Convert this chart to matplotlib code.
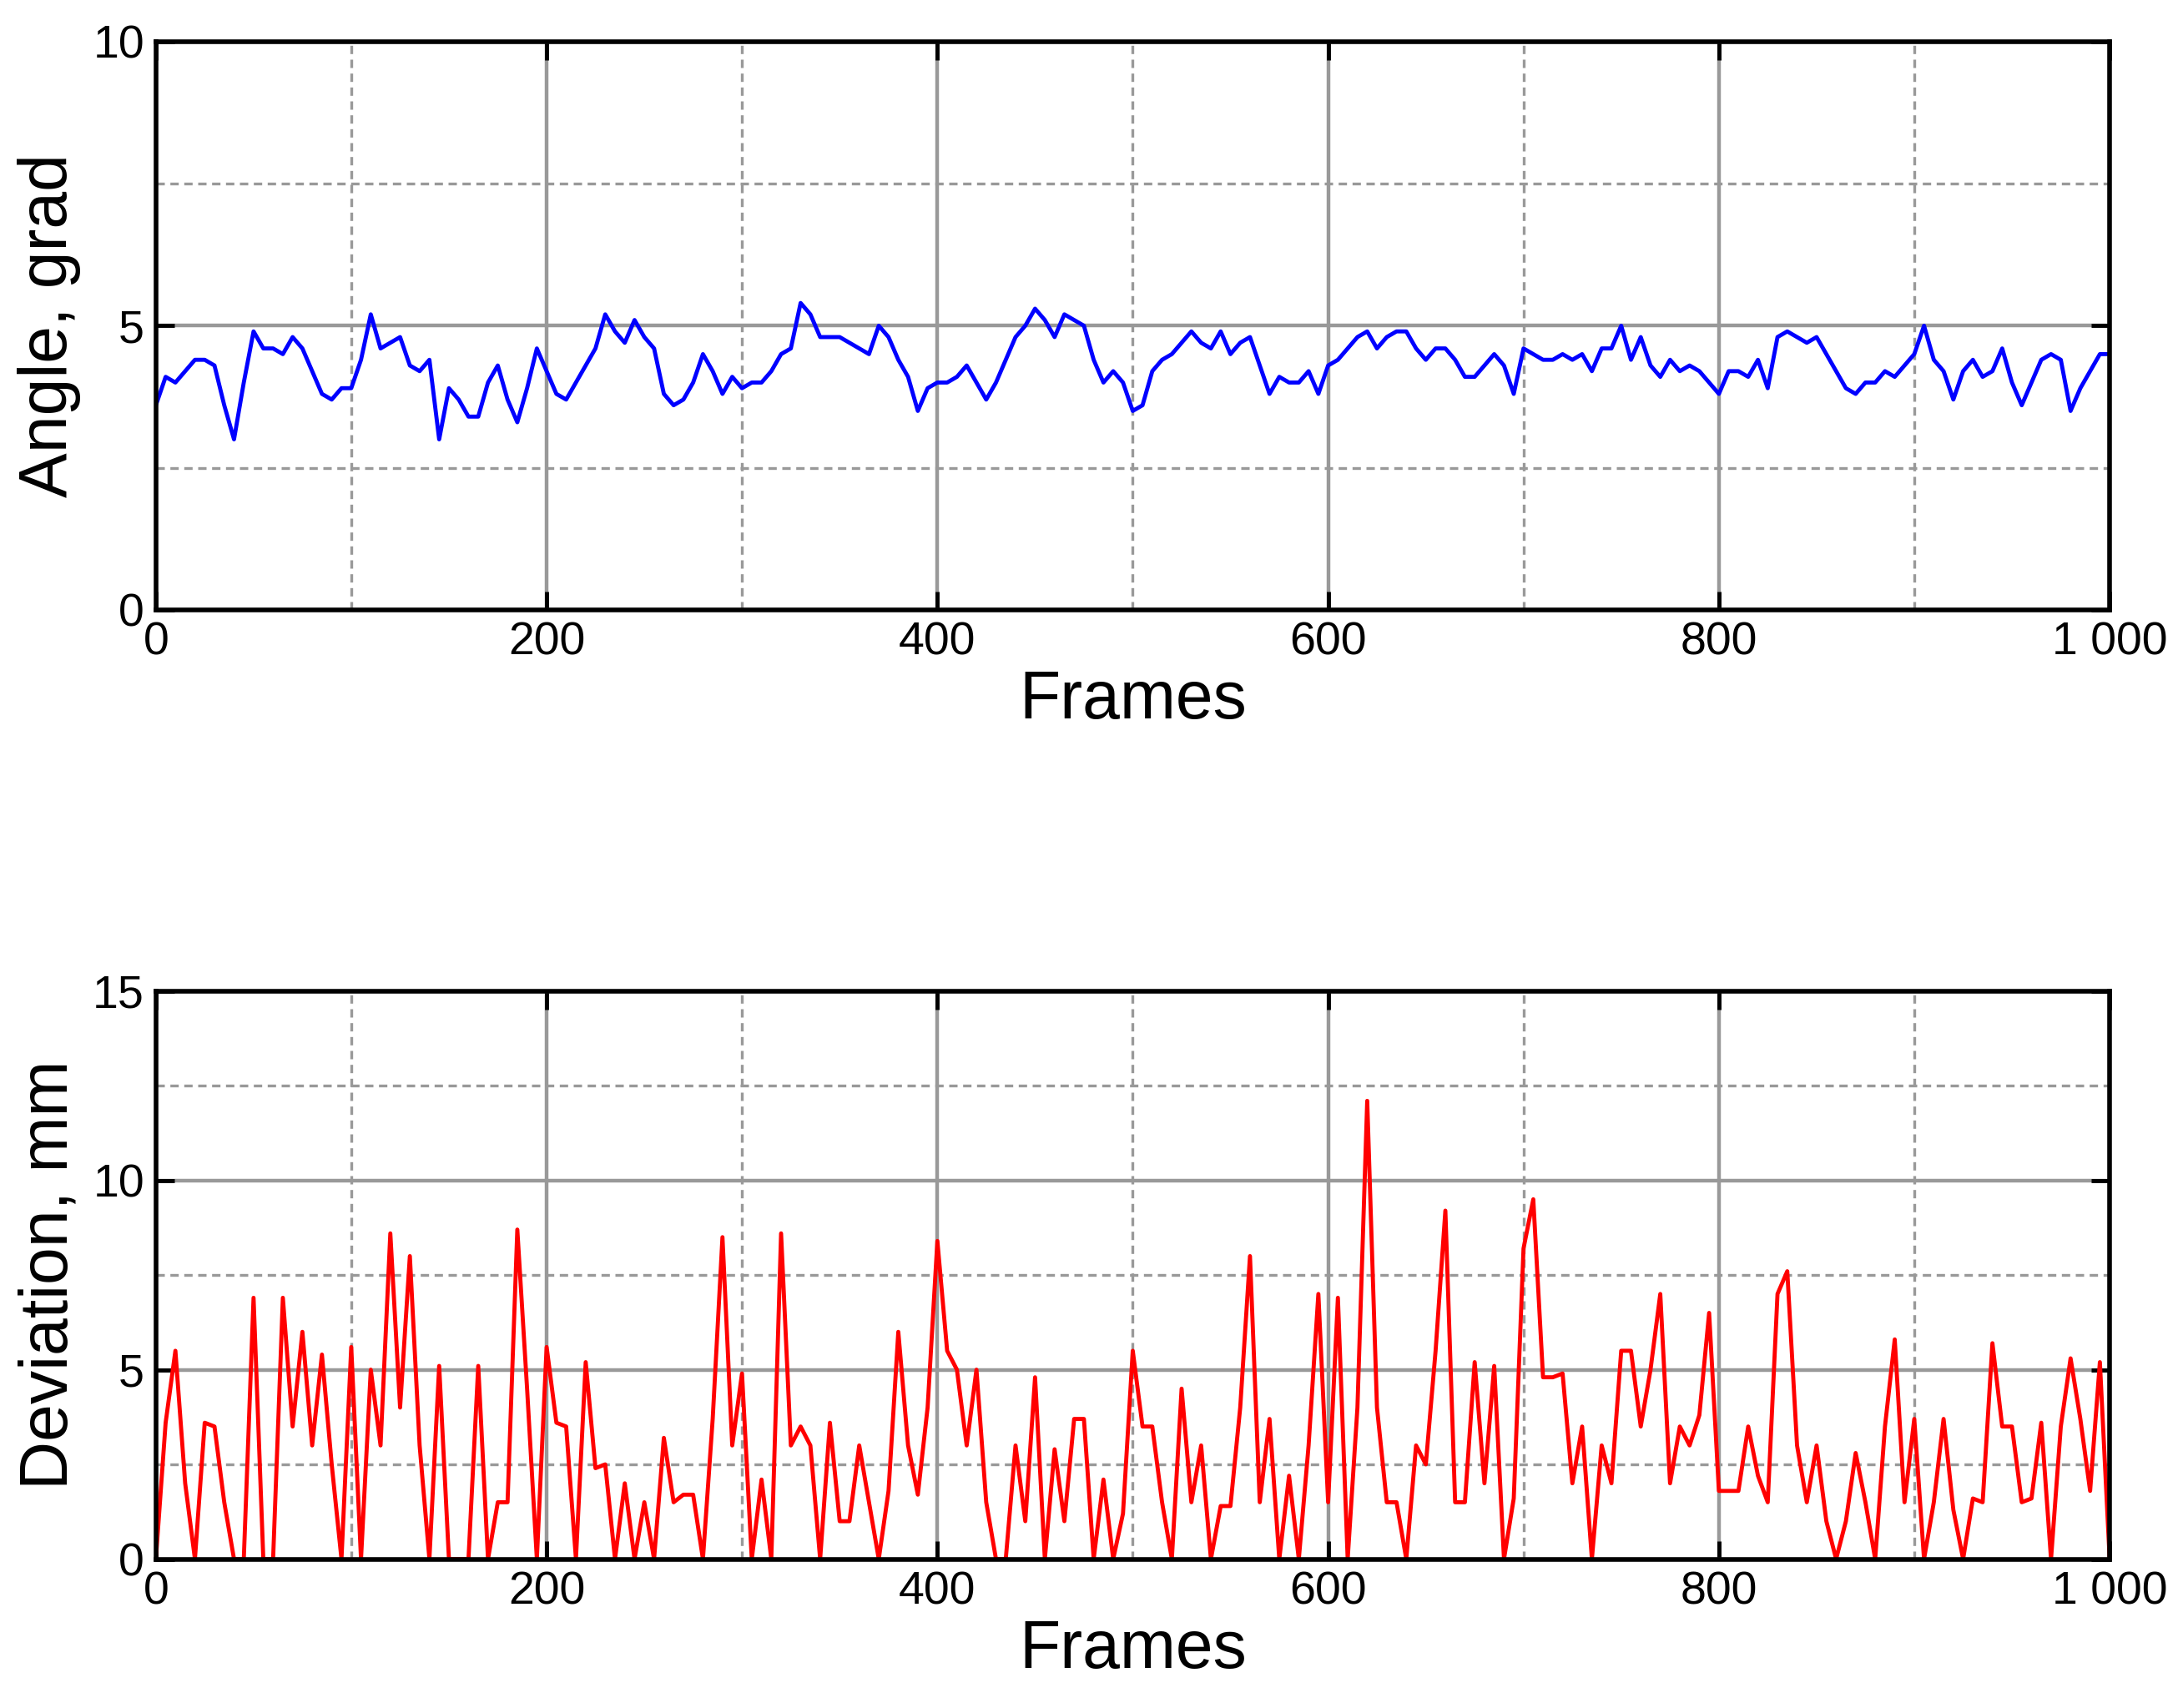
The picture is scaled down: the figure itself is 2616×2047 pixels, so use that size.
import matplotlib
matplotlib.use("Agg")
import matplotlib.pyplot as plt
import numpy as np
from matplotlib.ticker import MultipleLocator, FuncFormatter

plt.rcParams['font.family'] = ['Liberation Sans', 'DejaVu Sans']

frames = list(range(0, 1001, 5))
angle = [3.6,4.1,4.0,4.2,4.4,4.4,4.3,3.6,3.0,4.0,4.9,4.6,4.6,4.5,4.8,4.6,4.2,3.8,3.7,3.9,
         3.9,4.4,5.2,4.6,4.7,4.8,4.3,4.2,4.4,3.0,3.9,3.7,3.4,3.4,4.0,4.3,3.7,3.3,3.9,4.6,
         4.2,3.8,3.7,4.0,4.3,4.6,5.2,4.9,4.7,5.1,4.8,4.6,3.8,3.6,3.7,4.0,4.5,4.2,3.8,4.1,
         3.9,4.0,4.0,4.2,4.5,4.6,5.4,5.2,4.8,4.8,4.8,4.7,4.6,4.5,5.0,4.8,4.4,4.1,3.5,3.9,
         4.0,4.0,4.1,4.3,4.0,3.7,4.0,4.4,4.8,5.0,5.3,5.1,4.8,5.2,5.1,5.0,4.4,4.0,4.2,4.0,
         3.5,3.6,4.2,4.4,4.5,4.7,4.9,4.7,4.6,4.9,4.5,4.7,4.8,4.3,3.8,4.1,4.0,4.0,4.2,3.8,
         4.3,4.4,4.6,4.8,4.9,4.6,4.8,4.9,4.9,4.6,4.4,4.6,4.6,4.4,4.1,4.1,4.3,4.5,4.3,3.8,
         4.6,4.5,4.4,4.4,4.5,4.4,4.5,4.2,4.6,4.6,5.0,4.4,4.8,4.3,4.1,4.4,4.2,4.3,4.2,4.0,
         3.8,4.2,4.2,4.1,4.4,3.9,4.8,4.9,4.8,4.7,4.8,4.5,4.2,3.9,3.8,4.0,4.0,4.2,4.1,4.3,
         4.5,5.0,4.4,4.2,3.7,4.2,4.4,4.1,4.2,4.6,4.0,3.6,4.0,4.4,4.5,4.4,3.5,3.9,4.2,4.5,4.5]
deviation = [0,3.6,5.5,2.0,0,3.6,3.5,1.5,0,0,6.9,0,0,6.9,3.5,6.0,3.0,5.4,2.5,0,
             5.6,0,5.0,3.0,8.6,4.0,8.0,3.0,0,5.1,0,0,0,5.1,0,1.5,1.5,8.7,4.5,0,
             5.6,3.6,3.5,0,5.2,2.4,2.5,0,2.0,0,1.5,0,3.2,1.5,1.7,1.7,0,3.7,8.5,3.0,
             4.9,0,2.1,0,8.6,3.0,3.5,3.0,0,3.6,1.0,1.0,3.0,1.5,0,1.8,6.0,3.0,1.7,4.0,
             8.4,5.5,5.0,3.0,5.0,1.5,0,0,3.0,1.0,4.8,0,2.9,1.0,3.7,3.7,0,2.1,0,1.2,
             5.5,3.5,3.5,1.5,0,4.5,1.5,3.0,0,1.4,1.4,4.0,8.0,1.5,3.7,0,2.2,0,3.0,7.0,
             1.5,6.9,0,4.0,12.1,4.0,1.5,1.5,0,3.0,2.5,5.5,9.2,1.5,1.5,5.2,2.0,5.1,0,1.6,
             8.2,9.5,4.8,4.8,4.9,2.0,3.5,0,3.0,2.0,5.5,5.5,3.5,5.0,7.0,2.0,3.5,3.0,3.8,6.5,
             1.8,1.8,1.8,3.5,2.2,1.5,7.0,7.6,3.0,1.5,3.0,1.0,0,1.0,2.8,1.5,0,3.5,5.8,1.5,
             3.7,0,1.5,3.7,1.3,0,1.6,1.5,5.7,3.5,3.5,1.5,1.6,3.6,0,3.5,5.3,3.7,1.8,5.2,0]

fig = plt.figure(figsize=(26.16, 20.47), dpi=100)
ax1 = fig.add_axes([0.0714, 0.643, 0.895, 0.3326])
ax2 = fig.add_axes([0.0714, 0.0872, 0.895, 0.3326])

fmt = FuncFormatter(lambda v, p: f"{int(v):,}".replace(",", " "))

def style(ax, ymax, ymaj, ylabel):
    ax.set_xlim(0, 1000)
    ax.set_ylim(0, ymax)
    ax.xaxis.set_major_locator(MultipleLocator(200))
    ax.xaxis.set_minor_locator(MultipleLocator(100))
    ax.yaxis.set_major_locator(MultipleLocator(ymaj))
    ax.yaxis.set_minor_locator(MultipleLocator(ymaj / 2))
    ax.xaxis.set_major_formatter(fmt)
    ax.grid(which='major', color='#999999', lw=3.2, ls='-')
    ax.grid(which='minor', color='#999999', lw=2.4, ls=(0, (3, 2)))
    ax.set_axisbelow(True)
    ax.tick_params(which='major', direction='in', length=16, width=3.5, labelsize=40,
                   top=True, right=True, pad=10)
    ax.tick_params(which='minor', length=0)
    for s in ax.spines.values():
        s.set_linewidth(4)
    ax.set_xlabel('Frames', fontsize=58, labelpad=4)
    ax.set_ylabel(ylabel, fontsize=58, labelpad=10)

ax1.plot(frames, angle, color='#0000ff', lw=3.5)
style(ax1, 10, 5, 'Angle, grad')
ax2.plot(frames, deviation, color='#ff0000', lw=3.5)
style(ax2, 15, 5, 'Deviation, mm')

fig.savefig('out.png', dpi=100)
